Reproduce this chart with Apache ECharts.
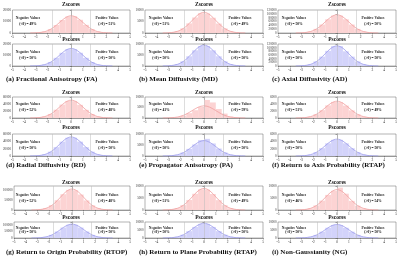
<!DOCTYPE html>
<html><head><meta charset="utf-8">
<script src="https://cdn.jsdelivr.net/npm/echarts@6/dist/echarts.min.js"></script>
<style>html,body{margin:0;padding:0;background:#fff}#c{width:400px;height:261px}</style>
</head><body><div id="c"></div>
<script>
// ---- data ----
const captions = ['(a) Fractional Anisotropy (FA)','(b) Mean Diffusivity (MD)','(c) Axial Diffusivity (AD)',
  '(d) Radial Diffusivity (RD)','(e) Propagator Anisotropy (PA)','(f) Return to Axis Probability (RTAP)',
  '(g) Return to Origin Probability (RTOP)','(h) Return to Plane Probability (RTAP)','(i) Non-Gaussianity (NG)'];
const zNegPct = [49,51,50,52,41,51,52,51,46];
const zPosPct = [51,49,50,48,59,49,48,49,54];
const pNegPct = [50,50,50,50,50,50,50,50,50];
const pPosPct = [50,50,50,50,50,50,50,50,50];
const xTicks = [-5,-4,-3,-2,-1,0,1,2,3,4,5];
const cutLines = [-1.645, 0, 1.645];
const binEdges = [-3.5,-3,-2.5,-2,-1.5,-1,-0.5,0,0.5,1,1.5,2,2.5,3,3.5];
const curveX = [-3.5,-3,-2.5,-2,-1.5,-1,-0.5,0,0.5,1,1.5,2,2.5,3,3.5];
const yMax = [20000,10000,120000,60000,10000,6000,120000,10000,10000];
const yStep = [10000,5000,20000,20000,5000,2000,50000,5000,5000];

const zHist = [
 [80,360,1260,3390,6980,11280,14370,14600,11500,7100,3450,1290,370,80],
 [45,220,760,2030,4190,6770,8620,8500,6650,4100,2000,740,210,45],
 [480,2280,7980,21470,44180,71440,91010,91010,71440,44180,21470,7980,2280,480],
 [260,1220,4280,11530,23720,38350,48860,48000,37600,23300,11300,4200,1200,250],
 [30,120,400,1100,2300,3700,5200,8600,7400,4300,2100,700,150,30],
 [24,115,400,1080,2230,3610,4600,4500,3540,2190,1060,390,112,24],
 [530,2520,8820,23730,48830,78960,100600,98500,77300,47800,23200,8600,2460,520],
 [45,215,750,2030,4190,6770,8620,8500,6650,4100,2000,740,210,45],
 [40,200,700,1900,3900,6300,8000,9300,6800,3800,1800,650,180,40]
];
const zCurve = [
 [30,170,660,2030,4880,9100,13250,15000,13250,9100,4880,2030,660,170,30],
 [20,100,400,1220,2930,5460,7950,9000,7950,5460,2930,1220,400,100,20],
 [190,1050,4180,12830,30880,57670,83890,95000,83890,57670,30880,12830,4180,1050,190],
 [100,560,2240,6890,16580,30960,45030,51000,45030,30960,16580,6890,2240,560,100],
 [10,60,260,780,1880,3520,5120,5800,5120,3520,1880,780,260,60,10],
 [10,53,210,650,1560,2910,4240,4800,4240,2910,1560,650,210,53,10],
 [210,1160,4620,14180,34130,63740,92720,105000,92720,63740,34130,14180,4620,1160,210],
 [20,100,400,1220,2930,5460,7950,9000,7950,5460,2930,1220,400,100,20],
 [17,94,370,1150,2760,5160,7510,8500,7510,5160,2760,1150,370,94,17]
];
const pHist = [
 [80,380,1340,3620,7440,12030,15330,15330,12030,7440,3620,1340,380,80],
 [50,230,800,2150,4420,7140,9100,9100,7140,4420,2150,800,230,50],
 [550,2640,9240,24860,51150,82720,108000,108000,80000,51150,24860,9240,2640,550],
 [260,1250,4370,11750,24180,39100,49820,49820,39100,24180,11750,4370,1250,260],
 [40,170,590,1580,3250,5260,7200,7800,5700,3400,1600,590,170,40],
 [23,110,390,1040,2140,3460,4410,4410,3460,2140,1040,390,110,23],
 [500,2500,8700,23500,48400,78200,99600,99600,78200,48400,23500,8700,2500,500],
 [46,220,770,2080,4280,6920,8810,8810,6920,4280,2080,770,220,46],
 [40,200,710,1920,3950,6390,8140,8140,6390,3950,1920,710,200,40]
];
const pCurve = [
 [30,180,700,2160,5200,9710,14130,16000,14130,9710,5200,2160,700,180,30],
 [20,105,420,1280,3090,5770,8390,9500,8390,5770,3090,1280,420,105,20],
 [220,1210,4840,14850,35750,66770,97130,110000,97130,66770,35750,14850,4840,1210,220],
 [100,570,2290,7020,16900,31560,45920,52000,45920,31560,16900,7020,2290,570,100],
 [14,77,310,950,2280,4250,6180,7000,6180,4250,2280,950,310,77,14],
 [9,51,200,620,1500,2790,4060,4600,4060,2790,1500,620,200,51,9],
 [210,1150,4580,14040,33800,63130,91830,104000,91830,63130,33800,14040,4580,1150,210],
 [18,101,400,1240,2990,5580,8120,9200,8120,5580,2990,1240,400,101,18],
 [17,94,370,1150,2760,5160,7510,8500,7510,5160,2760,1150,370,94,17]
];

// ---- layout ----
const colX = [0,133,266];
const rows = [
  {zt:5, zTop:10, zH:23, pt:40, pTop:44, pH:22, cap:79},
  {zt:93, zTop:97, zH:21, pt:128, pTop:134, pH:22, cap:165},
  {zt:183, zTop:186, zH:24, pt:218, pTop:222, pH:16, cap:252}
];
const SERIF = '"Liberation Serif","DejaVu Serif",serif';
const RED = {fill:'#fcd3d3', line:'#f0a0a0'};
const BLUE = {fill:'#d3d3fa', line:'#9c9cec'};

const grid=[], xAxis=[], yAxis=[], series=[], graphic=[];

function pctColor(v){ return v>50 ? '#ff2020' : (v<50 ? '#2020ff' : '#111'); }

function addPlot(idx, left, top, h, hist, curve, col, neg, pos){
  const gi = grid.length;
  grid.push({left:left, top:top, width:118, height:h, show:true, borderColor:'#666', borderWidth:0.5, backgroundColor:'#fff'});
  xAxis.push({gridIndex:gi, type:'value', min:-5, max:5, interval:1,
    axisLine:{onZero:false, lineStyle:{color:'#555', width:0.5}},
    axisTick:{length:1.5, lineStyle:{color:'#555', width:0.5}},
    axisLabel:{fontSize:3.5, margin:2, color:'#333', fontFamily:SERIF},
    splitLine:{show:false}});
  const step = yStep[idx];
  yAxis.push({gridIndex:gi, type:'value', min:0, max:yMax[idx], interval:step,
    axisLine:{show:true, lineStyle:{color:'#555', width:0.5}},
    axisTick:{show:true, length:1.5, lineStyle:{color:'#555', width:0.5}},
    axisLabel:{fontSize:3.2, margin:1.5, color:'#333', fontFamily:SERIF,
      formatter:v => (v % step === 0 ? String(v) : '')},
    splitLine:{show:false}});
  const hdata = hist.map((v,i)=>[binEdges[i], binEdges[i+1], v]);
  series.push({type:'custom', xAxisIndex:gi, yAxisIndex:gi, silent:true, clip:true,
    encode:{x:[0,1], y:2}, data:hdata,
    renderItem:(params, api)=>{
      const p0 = api.coord([api.value(0), api.value(2)]);
      const p1 = api.coord([api.value(1), 0]);
      return {type:'rect', shape:{x:p0[0], y:p0[1], width:p1[0]-p0[0], height:p1[1]-p0[1]},
        style:{fill:col.fill, stroke:null}};
    }});
  series.push({type:'line', xAxisIndex:gi, yAxisIndex:gi, silent:true, smooth:0.35, symbol:'none',
    data:curveX.map((x,i)=>[x, curve[i]]),
    lineStyle:{color:col.line, width:0.8},
    markLine:{silent:true, symbol:'none', label:{show:false}, animation:false,
      lineStyle:{color:'#bbb', width:0.5, type:'solid'},
      data:cutLines.map(x=>({xAxis:x}))}});
  const ty1 = top + h*0.36, ty2 = top + h*0.62;
  const rich = {t:{fontSize:3.6, fontFamily:SERIF, fontWeight:'bold', color:'#222'}};
  graphic.push({type:'text', x:left+16, y:ty1, silent:true,
    style:{text:'Negative Values', align:'center', verticalAlign:'middle', font:'bold 3.6px '+SERIF, fill:'#222'}});
  graphic.push({type:'text', x:left+16, y:ty2, silent:true,
    style:{text:'{t|(<0) = }{c|'+neg+'%}', align:'center', verticalAlign:'middle',
      rich:Object.assign({c:{fontSize:3.6, fontFamily:SERIF, fontWeight:'bold', color:pctColor(neg)}}, rich)}});
  graphic.push({type:'text', x:left+95, y:ty1, silent:true,
    style:{text:'Positive Values', align:'center', verticalAlign:'middle', font:'bold 3.6px '+SERIF, fill:'#222'}});
  graphic.push({type:'text', x:left+95, y:ty2, silent:true,
    style:{text:'{t|(>0) = }{c|'+pos+'%}', align:'center', verticalAlign:'middle',
      rich:Object.assign({c:{fontSize:3.6, fontFamily:SERIF, fontWeight:'bold', color:pctColor(pos)}}, rich)}});
}

for (let k=0;k<9;k++){
  const r = rows[Math.floor(k/3)], x0 = colX[k%3];
  const left = x0+12;
  addPlot(k, left, r.zTop, r.zH, zHist[k], zCurve[k], RED, zNegPct[k], zPosPct[k]);
  addPlot(k, left, r.pTop, r.pH, pHist[k], pCurve[k], BLUE, pNegPct[k], pPosPct[k]);
  graphic.push({type:'text', x:left+59, y:r.zt, silent:true,
    style:{text:'Zscores', align:'center', verticalAlign:'middle', font:'bold 5.5px '+SERIF, fill:'#111'}});
  graphic.push({type:'text', x:left+59, y:r.pt, silent:true,
    style:{text:'Pscores', align:'center', verticalAlign:'middle', font:'bold 5.5px '+SERIF, fill:'#111'}});
  graphic.push({type:'text', x:x0+6, y:r.cap, silent:true,
    style:{text:captions[k], align:'left', verticalAlign:'middle', font:'bold 7px '+SERIF, fill:'#111'}});
}

const chart = echarts.init(document.getElementById('c'), null, {renderer:'canvas'});
chart.setOption({animation:false, backgroundColor:'#fff', grid, xAxis, yAxis, series, graphic});
</script></body></html>
